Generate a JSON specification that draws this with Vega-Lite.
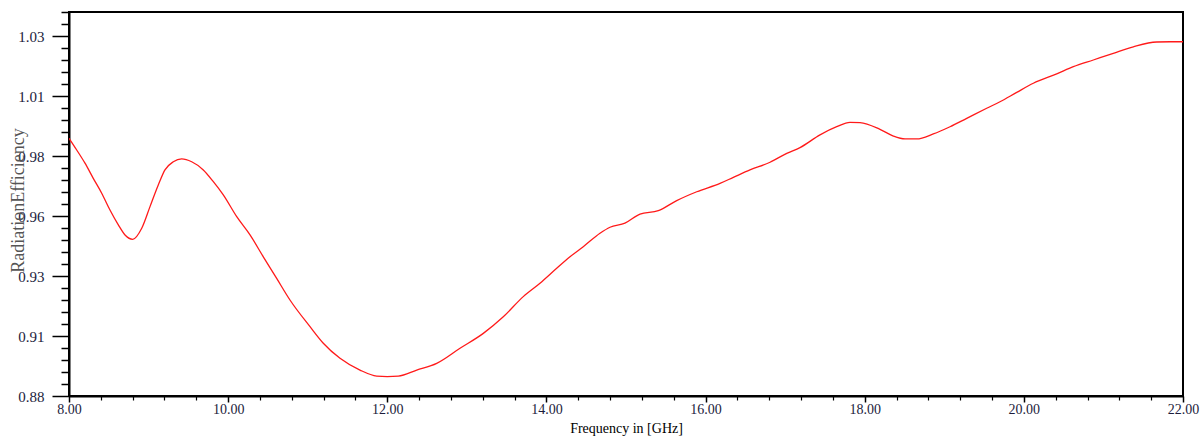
{
  "$schema": "https://vega.github.io/schema/vega-lite/v6.json",
  "width": 1114,
  "height": 384,
  "autosize": "none",
  "padding": {"left": 69, "top": 12, "right": 20, "bottom": 42},
  "background": "white",
  "config": {
    "view": {"stroke": "black", "strokeWidth": 2},
    "axis": {"grid": false, "labelFont": "Liberation Serif", "titleFont": "Liberation Serif", "domainColor": "black", "domainWidth": 2, "tickColor": "black"}
  },
  "data": {"values": [
    {"f": 8.00, "v": 0.9874},
    {"f": 8.097, "v": 0.9825},
    {"f": 8.201, "v": 0.9770},
    {"f": 8.305, "v": 0.9707},
    {"f": 8.411, "v": 0.9645},
    {"f": 8.515, "v": 0.9575},
    {"f": 8.620, "v": 0.9513},
    {"f": 8.704, "v": 0.9471},
    {"f": 8.801, "v": 0.9453},
    {"f": 8.914, "v": 0.9499},
    {"f": 9.018, "v": 0.9589},
    {"f": 9.122, "v": 0.9679},
    {"f": 9.206, "v": 0.9742},
    {"f": 9.311, "v": 0.9776},
    {"f": 9.416, "v": 0.9788},
    {"f": 9.542, "v": 0.9776},
    {"f": 9.688, "v": 0.9742},
    {"f": 9.814, "v": 0.9693},
    {"f": 9.939, "v": 0.9638},
    {"f": 10.108, "v": 0.9547},
    {"f": 10.275, "v": 0.9471},
    {"f": 10.442, "v": 0.9380},
    {"f": 10.610, "v": 0.9290},
    {"f": 10.777, "v": 0.9200},
    {"f": 11.029, "v": 0.9089},
    {"f": 11.196, "v": 0.9020},
    {"f": 11.406, "v": 0.8957},
    {"f": 11.657, "v": 0.8908},
    {"f": 11.867, "v": 0.8883},
    {"f": 12.000, "v": 0.8881},
    {"f": 12.138, "v": 0.8883},
    {"f": 12.370, "v": 0.8908},
    {"f": 12.621, "v": 0.8936},
    {"f": 12.914, "v": 0.8999},
    {"f": 13.207, "v": 0.9061},
    {"f": 13.458, "v": 0.9130},
    {"f": 13.709, "v": 0.9214},
    {"f": 13.919, "v": 0.9270},
    {"f": 14.129, "v": 0.9332},
    {"f": 14.296, "v": 0.9380},
    {"f": 14.463, "v": 0.9422},
    {"f": 14.673, "v": 0.9478},
    {"f": 14.799, "v": 0.9503},
    {"f": 14.987, "v": 0.9520},
    {"f": 15.176, "v": 0.9558},
    {"f": 15.406, "v": 0.9572},
    {"f": 15.637, "v": 0.9614},
    {"f": 15.889, "v": 0.9651},
    {"f": 16.182, "v": 0.9686},
    {"f": 16.349, "v": 0.9711},
    {"f": 16.558, "v": 0.9742},
    {"f": 16.810, "v": 0.9774},
    {"f": 17.020, "v": 0.9811},
    {"f": 17.187, "v": 0.9835},
    {"f": 17.438, "v": 0.9888},
    {"f": 17.648, "v": 0.9922},
    {"f": 17.815, "v": 0.9940},
    {"f": 17.941, "v": 0.9939},
    {"f": 18.192, "v": 0.9911},
    {"f": 18.360, "v": 0.9883},
    {"f": 18.507, "v": 0.9871},
    {"f": 18.654, "v": 0.9871},
    {"f": 18.862, "v": 0.9892},
    {"f": 19.072, "v": 0.9922},
    {"f": 19.282, "v": 0.9957},
    {"f": 19.533, "v": 0.9999},
    {"f": 19.700, "v": 1.0026},
    {"f": 19.910, "v": 1.0065},
    {"f": 20.119, "v": 1.0103},
    {"f": 20.413, "v": 1.0142},
    {"f": 20.622, "v": 1.0172},
    {"f": 20.873, "v": 1.0200},
    {"f": 21.124, "v": 1.0228},
    {"f": 21.376, "v": 1.0255},
    {"f": 21.670, "v": 1.0275},
    {"f": 21.840, "v": 1.0276},
    {"f": 22.000, "v": 1.0276}
  ]},
  "layer": [
    {
      "mark": {"type": "line", "color": "#ff1a1a", "strokeWidth": 1.3, "interpolate": "monotone", "clip": true},
      "encoding": {
        "x": {"field": "f", "type": "quantitative", "scale": {"domain": [8, 22], "nice": false, "zero": false},
          "axis": {"orient": "bottom", "values": [8, 10, 12, 14, 16, 18, 20, 22], "format": ".2f", "tickSize": 6, "tickWidth": 1.5, "labelPadding": 0, "labelFontSize": 14, "labelColor": "#1c1c3c", "labelBaseline": "top", "labelFlush": false,
            "title": "Frequency in [GHz]", "titleFontSize": 14, "titleFontWeight": "normal", "titleColor": "black", "titleBaseline": "alphabetic", "titleY": 36, "titleX": 557, "titleAlign": "center"}},
        "y": {"field": "v", "type": "quantitative", "scale": {"domain": [0.88, 1.04], "nice": false, "zero": false},
          "axis": {"orient": "left", "values": [0.88, 0.905, 0.93, 0.955, 0.98, 1.005, 1.03], "labelExpr": "format(datum.value + 0.0001, '.2f')", "tickSize": 17, "tickWidth": 1.5, "labelPadding": 8, "labelFontSize": 15, "labelColor": "#1c1c3c", "labelBaseline": "middle",
            "title": "RadiationEfficiency", "titleFontSize": 18, "titleFontWeight": "normal", "titleColor": "#555555", "titleAngle": 270, "titleX": -51, "titleY": 188, "titleAlign": "center", "titleBaseline": "middle"}}
      }
    },
    {
      "mark": {"type": "line", "strokeOpacity": 0},
      "encoding": {
        "x": {"field": "f", "type": "quantitative",
          "axis": {"orient": "bottom", "values": [8.4, 8.8, 9.2, 9.6, 10.4, 10.8, 11.2, 11.6, 12.4, 12.8, 13.2, 13.6, 14.4, 14.8, 15.2, 15.6, 16.4, 16.8, 17.2, 17.6, 18.4, 18.8, 19.2, 19.6, 20.4, 20.8, 21.2, 21.6], "labels": false, "domain": false, "tickSize": 4, "tickWidth": 1.2, "title": null}},
        "y": {"field": "v", "type": "quantitative",
          "axis": {"orient": "left", "values": [0.885, 0.89, 0.895, 0.9, 0.91, 0.915, 0.92, 0.925, 0.935, 0.94, 0.945, 0.95, 0.96, 0.965, 0.97, 0.975, 0.985, 0.99, 0.995, 1.0, 1.01, 1.015, 1.02, 1.025, 1.035, 1.04], "labels": false, "domain": false, "tickSize": 8, "tickWidth": 1.5, "title": null}}
      }
    }
  ],
  "resolve": {"axis": {"x": "independent", "y": "independent"}}
}
